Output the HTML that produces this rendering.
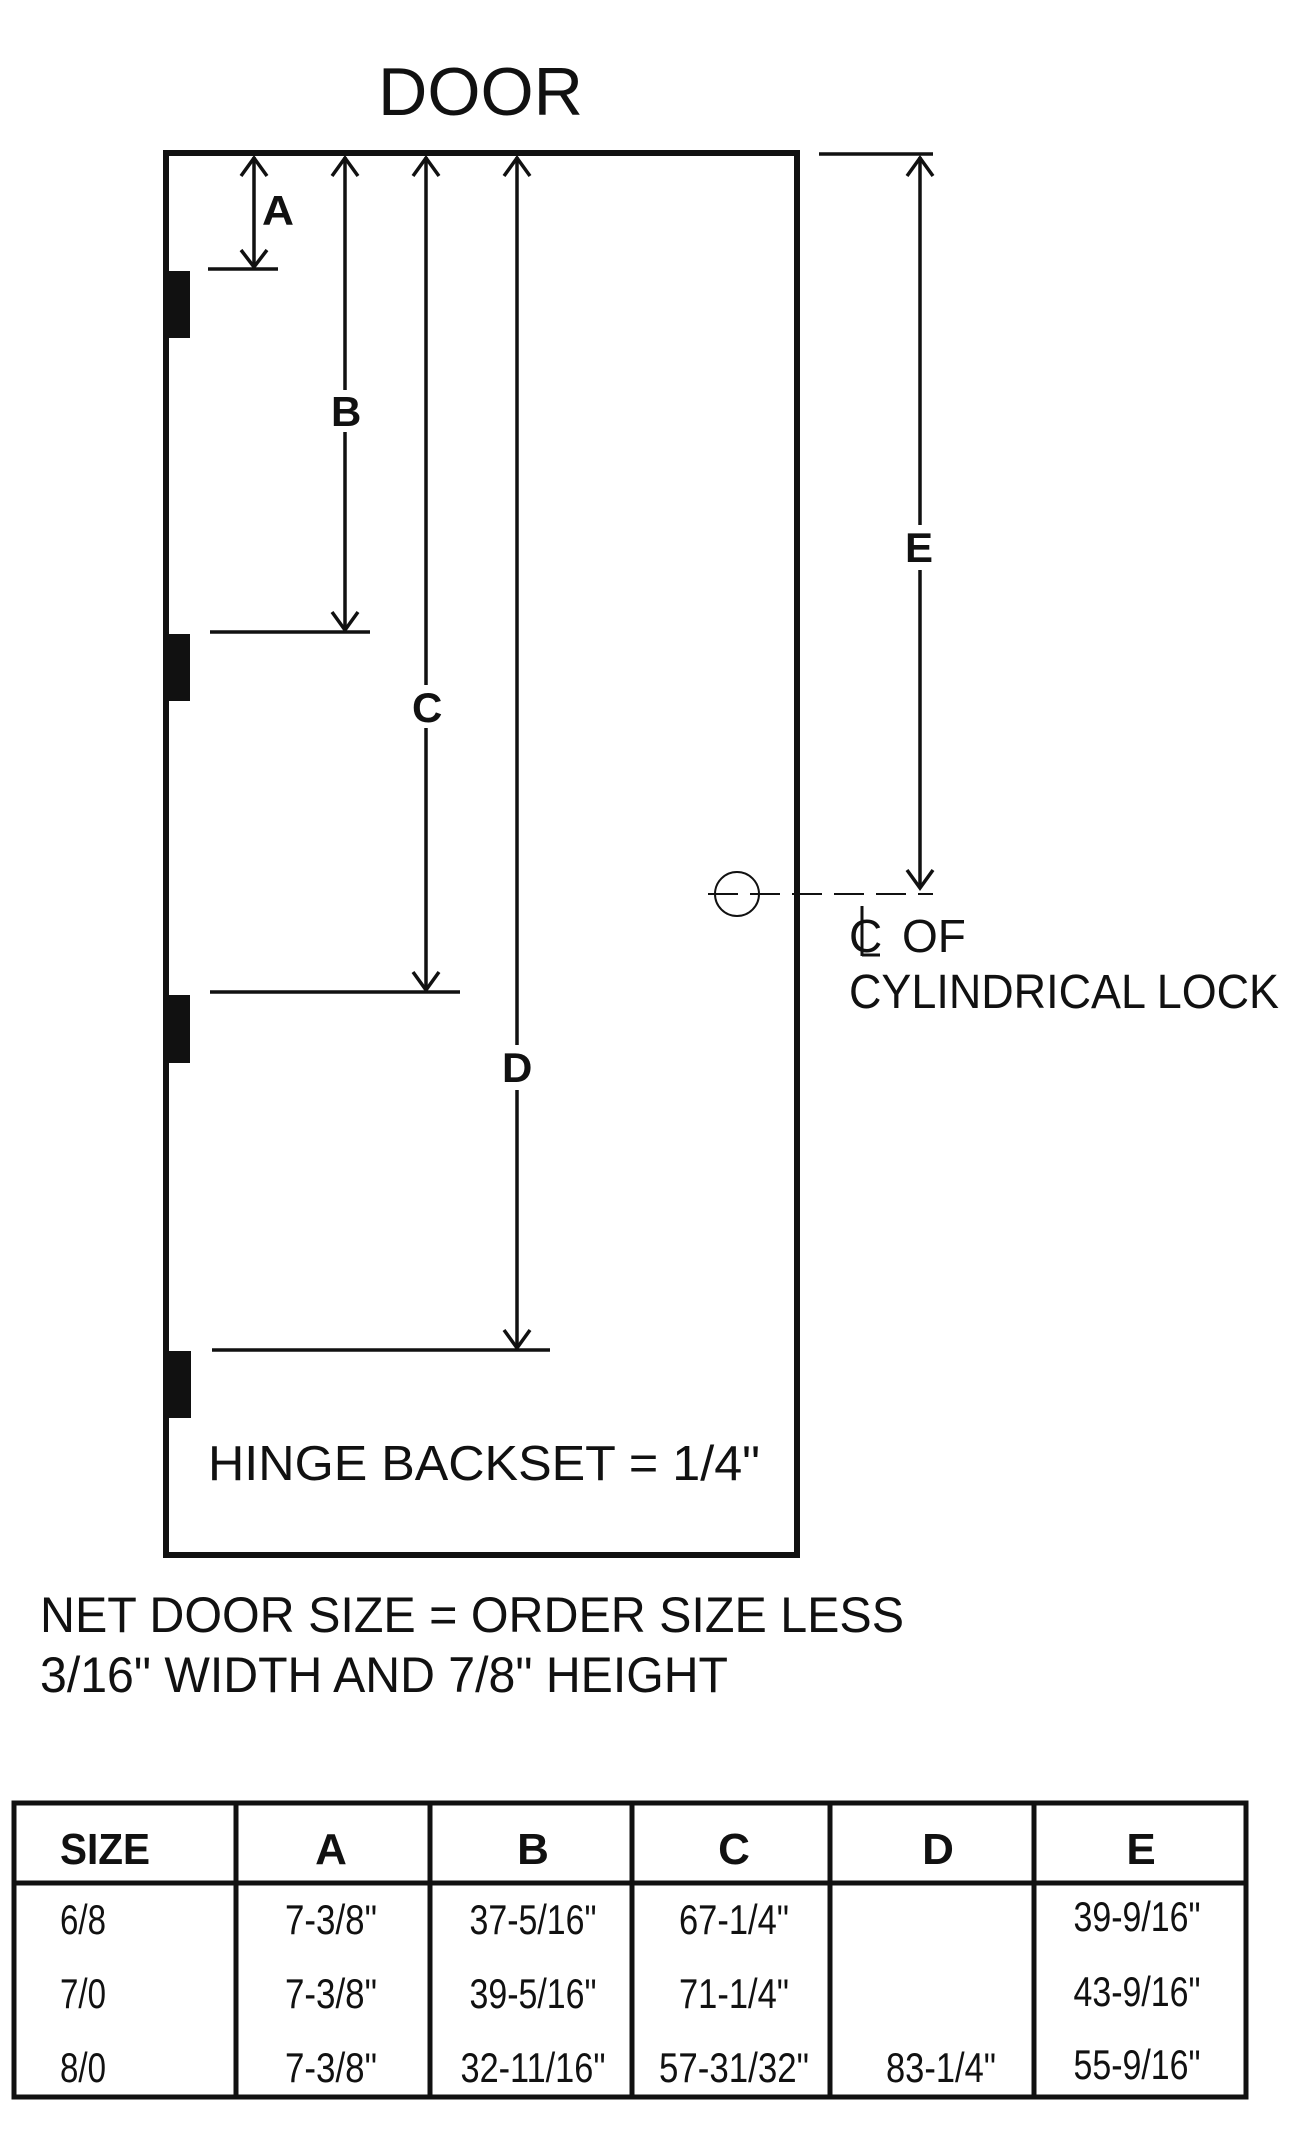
<!DOCTYPE html>
<html><head><meta charset="utf-8"><style>
html,body{margin:0;padding:0;background:#fff;}
svg{display:block;}
text{font-family:"Liberation Sans",Arial,sans-serif;fill:#111;}
</style></head><body>
<svg width="1299" height="2154" viewBox="0 0 1299 2154" xmlns="http://www.w3.org/2000/svg">
<rect width="1299" height="2154" fill="#fff"/>
<text x="378" y="115" font-size="68" textLength="205" lengthAdjust="spacingAndGlyphs">DOOR</text>
<rect x="166" y="153" width="631" height="1402" fill="none" stroke="#111" stroke-width="6"/>
<g fill="#111">
<rect x="163" y="271" width="27" height="67"/>
<rect x="163" y="634" width="27" height="67"/>
<rect x="163" y="995" width="27" height="68"/>
<rect x="163" y="1351" width="28" height="67"/>
</g>
<g stroke="#111" stroke-width="3.5" fill="none">
<line x1="208" y1="269" x2="278" y2="269"/>
<line x1="210" y1="632" x2="370" y2="632"/>
<line x1="210" y1="992" x2="460" y2="992"/>
<line x1="212" y1="1350" x2="550" y2="1350"/>
<line x1="819" y1="154" x2="933" y2="154"/>
<line x1="254" y1="157" x2="254" y2="267"/>
<polyline points="241,176 254,158 267,176"/><polyline points="241,250 254,267 267,250"/>
<line x1="345" y1="157" x2="345" y2="390"/><line x1="345" y1="432" x2="345" y2="630"/>
<polyline points="332,176 345,158 358,176"/><polyline points="332,612 345,630 358,612"/>
<line x1="426" y1="157" x2="426" y2="685"/><line x1="426" y1="728" x2="426" y2="990"/>
<polyline points="413,176 426,158 439,176"/><polyline points="413,972 426,990 439,972"/>
<line x1="517" y1="157" x2="517" y2="1045"/><line x1="517" y1="1090" x2="517" y2="1348"/>
<polyline points="504,176 517,158 530,176"/><polyline points="504,1330 517,1348 530,1330"/>
<line x1="920" y1="157" x2="920" y2="525"/><line x1="920" y1="570" x2="920" y2="888"/>
<polyline points="907,176 920,158 933,176"/><polyline points="907,870 920,888 933,870"/>
<circle cx="737" cy="894" r="22" stroke-width="2"/>
<line x1="708" y1="894" x2="933" y2="894" stroke-width="2" stroke-dasharray="30,12"/>
<line x1="862" y1="906" x2="862" y2="956" stroke-width="3"/>
<line x1="862" y1="955" x2="880" y2="955" stroke-width="3"/>
</g>
<g font-size="42" font-weight="bold">
<text x="262" y="225" textLength="32" lengthAdjust="spacingAndGlyphs">A</text>
<text x="331" y="426">B</text>
<text x="412" y="722">C</text>
<text x="502" y="1082">D</text>
<text x="905" y="562">E</text>
</g>
<text x="849" y="952" font-size="46">C</text>
<text x="902" y="952" font-size="46">OF</text>
<text x="849" y="1008" font-size="48" textLength="430" lengthAdjust="spacingAndGlyphs">CYLINDRICAL LOCK</text>
<text x="208" y="1480" font-size="49" textLength="552" lengthAdjust="spacingAndGlyphs">HINGE BACKSET = 1/4"</text>
<text x="40" y="1632" font-size="50" textLength="864" lengthAdjust="spacingAndGlyphs">NET DOOR SIZE = ORDER SIZE LESS</text>
<text x="40" y="1692" font-size="50" textLength="688" lengthAdjust="spacingAndGlyphs">3/16" WIDTH AND 7/8" HEIGHT</text>
<g stroke="#111" stroke-width="5" fill="none">
<rect x="14" y="1803" width="1232" height="294"/>
<line x1="14" y1="1883" x2="1246" y2="1883"/>
<line x1="236" y1="1803" x2="236" y2="2097"/>
<line x1="430" y1="1803" x2="430" y2="2097"/>
<line x1="632" y1="1803" x2="632" y2="2097"/>
<line x1="830" y1="1803" x2="830" y2="2097"/>
<line x1="1034" y1="1803" x2="1034" y2="2097"/>
</g>
<g font-size="44" font-weight="bold">
<text x="60" y="1864" textLength="90" lengthAdjust="spacingAndGlyphs">SIZE</text>
<text x="331" y="1864" text-anchor="middle">A</text>
<text x="533" y="1864" text-anchor="middle">B</text>
<text x="734" y="1864" text-anchor="middle">C</text>
<text x="938" y="1864" text-anchor="middle">D</text>
<text x="1141" y="1864" text-anchor="middle">E</text>
</g>
<g font-size="42">
<text x="60" y="1934" textLength="46" lengthAdjust="spacingAndGlyphs">6/8</text>
<text x="60" y="2008" textLength="46" lengthAdjust="spacingAndGlyphs">7/0</text>
<text x="60" y="2082" textLength="46" lengthAdjust="spacingAndGlyphs">8/0</text>
<g text-anchor="middle">
<text x="331" y="1934" textLength="92" lengthAdjust="spacingAndGlyphs">7-3/8"</text>
<text x="331" y="2008" textLength="92" lengthAdjust="spacingAndGlyphs">7-3/8"</text>
<text x="331" y="2082" textLength="92" lengthAdjust="spacingAndGlyphs">7-3/8"</text>
<text x="533" y="1934" textLength="127" lengthAdjust="spacingAndGlyphs">37-5/16"</text>
<text x="533" y="2008" textLength="127" lengthAdjust="spacingAndGlyphs">39-5/16"</text>
<text x="533" y="2082" textLength="145" lengthAdjust="spacingAndGlyphs">32-11/16"</text>
<text x="734" y="1934" textLength="110" lengthAdjust="spacingAndGlyphs">67-1/4"</text>
<text x="734" y="2008" textLength="110" lengthAdjust="spacingAndGlyphs">71-1/4"</text>
<text x="734" y="2082" textLength="150" lengthAdjust="spacingAndGlyphs">57-31/32"</text>
<text x="941" y="2082" textLength="110" lengthAdjust="spacingAndGlyphs">83-1/4"</text>
<text x="1137" y="1931" textLength="127" lengthAdjust="spacingAndGlyphs">39-9/16"</text>
<text x="1137" y="2006" textLength="127" lengthAdjust="spacingAndGlyphs">43-9/16"</text>
<text x="1137" y="2079" textLength="127" lengthAdjust="spacingAndGlyphs">55-9/16"</text>
</g>
</g>
</svg>
</body></html>
